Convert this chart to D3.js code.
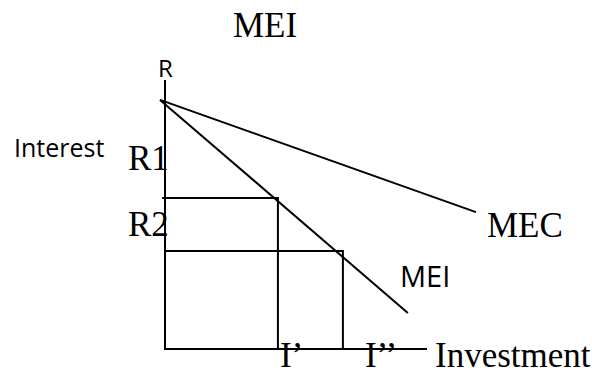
<!DOCTYPE html>
<html>
<head>
<meta charset="utf-8">
<script src="https://cdn.jsdelivr.net/npm/d3@7"></script>
<style>
  body { margin: 0; background: #fff; }
  .serif { font-family: "Liberation Serif", "Times New Roman", serif; }
  .sans { font-family: "Open Sans", "Noto Sans", sans-serif; }
</style>
</head>
<body>
<div id="chart"></div>
<script>
// curves, in chart units (axes run 0..100)
const curveNames = ["MEC", "MEI"];
const mecLine = [[-1.9, 92.6], [118.7, 50.9]];
const meiLine = [[-1.9, 92.6], [92.7, 13.4]];

// interest rate levels and the investment they give on MEI
const rateLabels = ["R1", "R2"];
const rateLevels = [56.1, 36.4];
const investLabels = ["I\u2019", "I\u2019\u2019"];
const investLevels = [43.1, 67.9];

const width = 592, height = 372;

const svg = d3.select("#chart")
    .append("svg")
    .attr("width", width)
    .attr("height", height);

const x = d3.scaleLinear().domain([0, 100]).range([165, 427]);
const y = d3.scaleLinear().domain([0, 100]).range([349, 80]);

const line = d3.line().x(d => x(d[0])).y(d => y(d[1]));

const ink = "#000";
const sw = 2;

// axes
svg.append("path")
    .attr("d", line([[0, 100], [0, 0], [100, 0]]))
    .attr("fill", "none")
    .attr("stroke", ink)
    .attr("stroke-width", sw);

// MEC and MEI
svg.selectAll(".curve")
    .data([mecLine, meiLine])
    .enter().append("path")
    .attr("class", "curve")
    .attr("d", d => line(d))
    .attr("fill", "none")
    .attr("stroke", ink)
    .attr("stroke-width", sw);

// guide lines R -> MEI -> I
rateLevels.forEach(function (r, i) {
    const xi = investLevels[i];
    svg.append("path")
        .attr("d", line([[i === 0 ? -1.1 : 0, r], [xi, r], [xi, 0]]))
        .attr("fill", "none")
        .attr("stroke", ink)
        .attr("stroke-width", sw);
});

// title
svg.append("text")
    .attr("class", "serif")
    .attr("x", 233)
    .attr("y", 37)
    .attr("font-size", 35)
    .text("MEI");

svg.append("text")
    .attr("class", "sans")
    .attr("x", x(0) - 7)
    .attr("y", 77)
    .attr("font-size", 24)
    .text("R");

svg.append("text")
    .attr("class", "sans")
    .attr("x", 14)
    .attr("y", 157)
    .attr("font-size", 25)
    .text("Interest");

// rate labels, above each guide line
svg.selectAll(".rlab")
    .data(rateLabels)
    .enter().append("text")
    .attr("class", "serif rlab")
    .attr("x", 128)
    .attr("y", (d, i) => y(rateLevels[i]) - 28 + (i === 0 ? 0 : 13))
    .attr("font-size", 35)
    .text(d => d);

// investment labels
svg.selectAll(".ilab")
    .data(investLabels)
    .enter().append("text")
    .attr("class", "serif ilab")
    .attr("x", (d, i) => x(investLevels[i]) + (i === 0 ? 2 : 22))
    .attr("y", 367)
    .attr("font-size", 35)
    .text(d => d);

svg.append("text")
    .attr("class", "serif")
    .attr("x", x(100) + 8)
    .attr("y", 367)
    .attr("font-size", 35)
    .text("Investment");

// curve labels
svg.append("text")
    .attr("class", "serif")
    .attr("x", x(mecLine[1][0]) + 11)
    .attr("y", y(mecLine[1][1]) + 25)
    .attr("font-size", 35)
    .text(curveNames[0]);

svg.append("text")
    .attr("class", "sans")
    .attr("x", 400)
    .attr("y", 287)
    .attr("font-size", 29)
    .text(curveNames[1]);
</script>
</body>
</html>
